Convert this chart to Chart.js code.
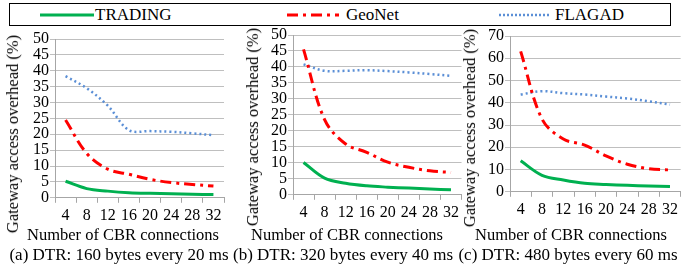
<!DOCTYPE html>
<html>
<head>
<meta charset="utf-8">
<script src="https://cdn.jsdelivr.net/npm/chart.js@4/dist/chart.umd.min.js"></script>
<style>
  body { margin: 0; background: #fff; font-family: "Liberation Serif", "Times New Roman", Times, serif; }
  #wrap { position: relative; width: 681px; height: 269px; overflow: hidden; }
  canvas { position: absolute; top: 0; }
  .legend { position: absolute; left: 9px; top: 3px; width: 662px; height: 23px; border: 1px solid #000; box-sizing: border-box; font-size: 17px; z-index: 2; background: #fff; }
  .legend span { position: absolute; top: 1px; }
  .legend svg { position: absolute; top: 6px; }
  .ytitle { position: absolute; font-family: "Liberation Serif", serif; font-size: 16.5px; white-space: nowrap; transform: translate(-50%, -50%) rotate(-90deg); }
  .xtitle { position: absolute; top: 225px; font-family: "Liberation Serif", serif; font-size: 16.5px; white-space: nowrap; transform: translateX(-50%); }
  .caption { position: absolute; top: 245px; font-size: 17px; white-space: nowrap; transform: translateX(-50%); }
</style>
</head>
<body>
<div id="wrap">
  <div class="legend">
    <svg style="left:30px" width="54" height="10"><line x1="0" y1="5" x2="54" y2="5" stroke="#00b050" stroke-width="3"/></svg>
    <span style="left:85px">TRADING</span>
    <svg style="left:277px" width="52" height="10"><line x1="0" y1="5" x2="52" y2="5" stroke="#ff0000" stroke-width="3" stroke-dasharray="11 5 3 5"/></svg>
    <span style="left:336px">GeoNet</span>
    <svg style="left:489px" width="50" height="10"><line x1="0" y1="5" x2="50" y2="5" stroke="#5b8fd6" stroke-width="2.5" stroke-dasharray="2 2"/></svg>
    <span style="left:545px">FLAGAD</span>
  </div>
  <canvas id="chartA" width="230" height="269" style="left:0"></canvas>
  <canvas id="chartB" width="232" height="269" style="left:230px"></canvas>
  <canvas id="chartC" width="219" height="269" style="left:462px"></canvas>
  <div class="ytitle" style="left:13px; top:134px">Gateway access overhead (%)</div>
  <div class="ytitle" style="left:253px; top:127px">Gateway access overhead (%)</div>
  <div class="ytitle" style="left:470px; top:128px">Gateway access overhead (%)</div>
  <div class="xtitle" style="left:123px">Number of CBR connections</div>
  <div class="xtitle" style="left:347px">Number of CBR connections</div>
  <div class="xtitle" style="left:571px">Number of CBR connections</div>
  <div class="caption" style="left:119px">(a) DTR: 160 bytes every 20 ms</div>
  <div class="caption" style="left:343px">(b) DTR: 320 bytes every 40 ms</div>
  <div class="caption" style="left:568px">(c) DTR: 480 bytes every 60 ms</div>
</div>
<script>
const connections = ['4', '8', '12', '16', '20', '24', '28', '32'];

// (a) DTR 160 bytes / 20 ms
const tradingA = [5.2, 2.9, 2.1, 1.6, 1.4, 1.3, 1.1, 1.0];
const geonetA = [24.5, 14.0, 9.0, 7.4, 5.8, 4.8, 4.2, 3.7];
const flagadA = [38.3, 34.5, 29.0, 21.3, 21.0, 20.8, 20.3, 19.7];

// (b) DTR 320 bytes / 40 ms
const tradingB = [10.1, 5.2, 3.6, 2.8, 2.4, 2.1, 1.8, 1.6];
const geonetB = [45.5, 23.5, 15.9, 13.3, 10.2, 8.6, 7.5, 7.0];
const flagadB = [40.8, 38.8, 38.8, 39.0, 38.7, 38.3, 37.8, 37.2];

// (c) DTR 480 bytes / 60 ms
const tradingC = [13.9, 7.4, 5.3, 3.8, 3.3, 2.9, 2.6, 2.4];
const geonetC = [63.1, 32.7, 23.7, 21.0, 16.1, 12.4, 10.4, 9.8];
const flagadC = [43.7, 45.2, 44.3, 43.7, 42.8, 41.9, 40.7, 39.2];

const font = "'Liberation Serif', 'Times New Roman', Times, serif";

function makeChart(id, trading, geonet, flagad, yMax, yStep, yWidth, pad) {
  new Chart(document.getElementById(id), {
    type: 'line',
    data: {
      labels: connections,
      datasets: [
        { label: 'TRADING', data: trading, borderColor: '#00b050', borderWidth: 3, pointRadius: 0, tension: 0.35 },
        { label: 'GeoNet', data: geonet, borderColor: '#ff0000', borderWidth: 3, borderDash: [11, 5, 3, 5], pointRadius: 0, tension: 0.35 },
        { label: 'FLAGAD', data: flagad, borderColor: '#5b8fd6', borderWidth: 2.5, borderDash: [2, 3], pointRadius: 0, tension: 0.35 }
      ]
    },
    options: {
      responsive: false,
      animation: false,
      layout: { padding: pad },
      plugins: { legend: { display: false }, tooltip: { enabled: false } },
      scales: {
        x: {
          offset: true,
          grid: { offset: true, drawOnChartArea: false, color: '#a6a6a6', tickLength: 5 },
          border: { color: '#a6a6a6' },
          ticks: { color: '#000', font: { family: font, size: 16 }, padding: 3, maxRotation: 0, autoSkip: false }
        },
        y: {
          min: 0,
          max: yMax,
          grid: { color: '#bfbfbf', tickLength: 5 },
          border: { color: '#a6a6a6' },
          ticks: { stepSize: yStep, autoSkip: false, color: '#000', font: { family: font, size: 16 }, padding: 1 },
          afterFit: (scale) => { scale.width = yWidth; }
        }
      }
    }
  });
}

makeChart('chartA', tradingA, geonetA, flagadA, 50, 5, 55, { top: 39, bottom: 41, left: 0, right: 6 });
makeChart('chartB', tradingB, geonetB, flagadB, 50, 5, 63, { top: 35, bottom: 44, left: 0, right: 0 });
makeChart('chartC', tradingC, geonetC, flagadC, 70, 10, 48, { top: 36, bottom: 47, left: 0, right: 0 });
</script>
</body>
</html>
